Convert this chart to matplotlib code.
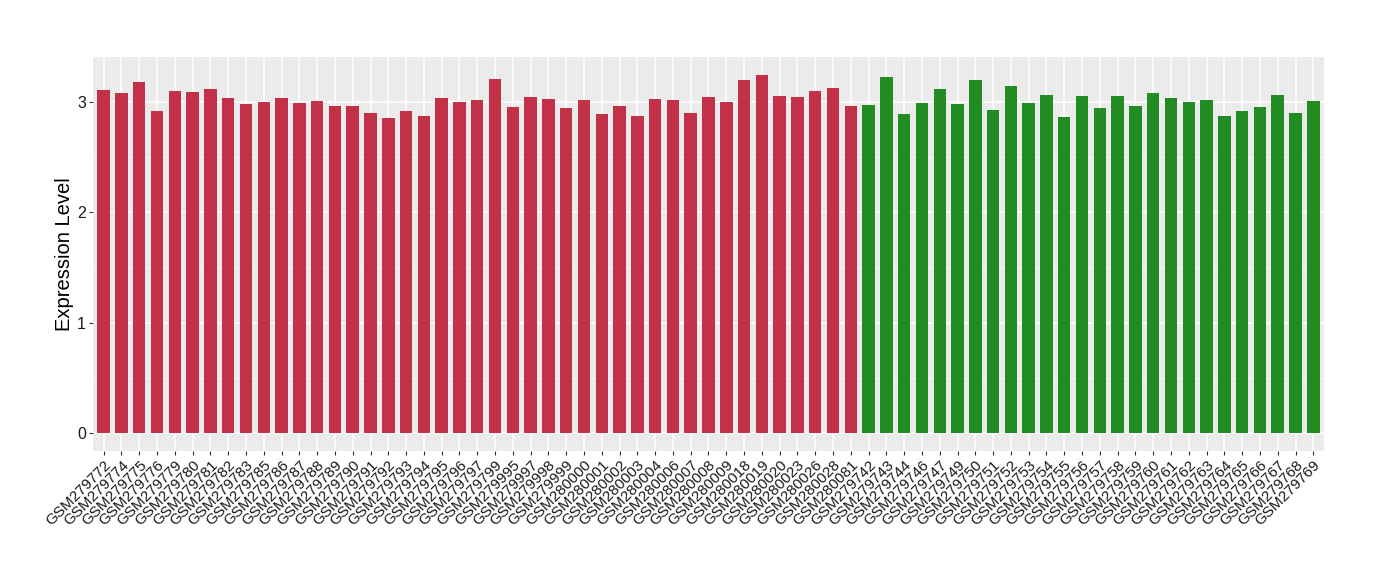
import numpy as np
import matplotlib.pyplot as plt

plt.rcParams['font.family'] = ['Liberation Sans', 'DejaVu Sans']

group1_samples = ["GSM279772", "GSM279774", "GSM279775", "GSM279776", "GSM279779", "GSM279780",
                  "GSM279781", "GSM279782", "GSM279783", "GSM279785", "GSM279786", "GSM279787",
                  "GSM279788", "GSM279789", "GSM279790", "GSM279791", "GSM279792", "GSM279793",
                  "GSM279794", "GSM279795", "GSM279796", "GSM279797", "GSM279799", "GSM279995",
                  "GSM279997", "GSM279998", "GSM279999", "GSM280000", "GSM280001", "GSM280002",
                  "GSM280003", "GSM280004", "GSM280006", "GSM280007", "GSM280008", "GSM280009",
                  "GSM280018", "GSM280019", "GSM280020", "GSM280023", "GSM280026", "GSM280028",
                  "GSM280081"]
group1_values = [3.108, 3.081, 3.18, 2.919, 3.099, 3.09, 3.117, 3.03, 2.982, 3.0, 3.03, 2.991,
                 3.009, 2.964, 2.964, 2.901, 2.855, 2.919, 2.873, 3.036, 3.0, 3.018, 3.208, 2.955,
                 3.045, 3.027, 2.946, 3.018, 2.892, 2.964, 2.873, 3.027, 3.018, 2.901, 3.045, 3.0,
                 3.199, 3.244, 3.054, 3.045, 3.099, 3.126, 2.964]

group2_samples = ["GSM279742", "GSM279743", "GSM279744", "GSM279746", "GSM279747", "GSM279749",
                  "GSM279750", "GSM279751", "GSM279752", "GSM279753", "GSM279754", "GSM279755",
                  "GSM279756", "GSM279757", "GSM279758", "GSM279759", "GSM279760", "GSM279761",
                  "GSM279762", "GSM279763", "GSM279764", "GSM279765", "GSM279766", "GSM279767",
                  "GSM279768", "GSM279769"]
group2_values = [2.973, 3.226, 2.892, 2.991, 3.117, 2.982, 3.199, 2.928, 3.145, 2.991, 3.063, 2.864,
                 3.054, 2.946, 3.054, 2.964, 3.081, 3.036, 3.0, 3.018, 2.873, 2.919, 2.955, 3.063,
                 2.901, 3.009]

red = "#C33149"
green = "#228B22"

samples = group1_samples + group2_samples
values = group1_values + group2_values
colors = [red] * len(group1_samples) + [green] * len(group2_samples)
x = np.arange(len(samples))

fig = plt.figure(figsize=(13.8, 5.8), dpi=100)
ax = fig.add_axes([0.0674, 0.2224, 0.892, 0.6793])
ax.set_facecolor("#EBEBEB")

ax.bar(x, values, width=0.7, color=colors, zorder=3)

ax.set_xlim(-0.6, len(samples) - 0.4)
ax.set_ylim(-0.162, 3.405)
ax.set_yticks([0, 1, 2, 3])
ax.set_yticks([0.5, 1.5, 2.5], minor=True)
ax.set_xticks(x)
ax.set_xticklabels(samples, rotation=45, ha="right", va="top",
                   rotation_mode="anchor", fontsize=11, color="#1a1a1a")

ax.grid(which="major", color="white", linewidth=1.1, zorder=1)
ax.grid(which="minor", axis="y", color="white", linewidth=0.5, zorder=1)
for s in ax.spines.values():
    s.set_visible(False)
ax.tick_params(axis="both", which="major", length=3, color="#333333", labelsize=11.5,
               labelcolor="#1a1a1a")
ax.tick_params(axis="x", labelsize=11, pad=2)
ax.tick_params(axis="y", which="minor", length=0)
ax.tick_params(axis="y", pad=2)

ax.set_ylabel("Expression Level", fontsize=14.5, color="black", labelpad=2)

fig.savefig("out.png", dpi=100)
